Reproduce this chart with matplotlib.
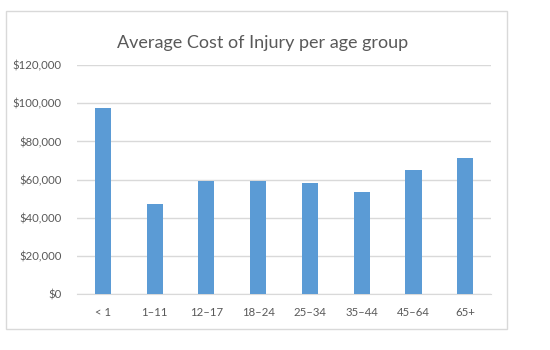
import matplotlib.pyplot as plt
from matplotlib.patches import Rectangle
from matplotlib.ticker import FuncFormatter

plt.rcParams['font.family'] = ['Lato', 'DejaVu Sans']

groups = ['< 1', '1–11', '12–17', '18–24', '25–34', '35–44', '45–64', '65+']
costs = [97500, 47300, 59300, 59300, 58300, 53600, 65200, 71400]

fig = plt.figure(figsize=(5.5, 3.5), dpi=100)
ax = fig.add_axes([0.14, 0.16, 0.753, 0.654])

# chart border like the spreadsheet
fig.patches.append(Rectangle((6 / 550, 1 - 329 / 350), 501 / 550, 318 / 350,
                             transform=fig.transFigure, fill=False,
                             edgecolor='#d9d9d9', linewidth=1))

ax.bar(range(len(groups)), costs, width=0.31, color='#5b9bd5', zorder=3)
ax.set_xlim(-0.5, len(groups) - 0.5)
ax.set_ylim(0, 120000)
ax.set_yticks(range(0, 120001, 20000))
ax.yaxis.set_major_formatter(FuncFormatter(lambda v, p: '${:,.0f}'.format(v)))
ax.set_xticks(range(len(groups)))
ax.set_xticklabels(groups)

ax.grid(axis='y', color='#d9d9d9', linewidth=1, zorder=0)
for s in ['top', 'right', 'left']:
    ax.spines[s].set_visible(False)
ax.spines['bottom'].set_color('#d9d9d9')
ax.tick_params(length=0, labelsize=8.2, labelcolor='#595959')
ax.tick_params(axis='y', pad=11)
ax.tick_params(axis='x', pad=9)

fig.text(0.477, 1 - 43 / 350, 'Average Cost of Injury per age group',
         ha='center', va='center', fontsize=13, color='#595959')

fig.savefig('out.png', dpi=100)
